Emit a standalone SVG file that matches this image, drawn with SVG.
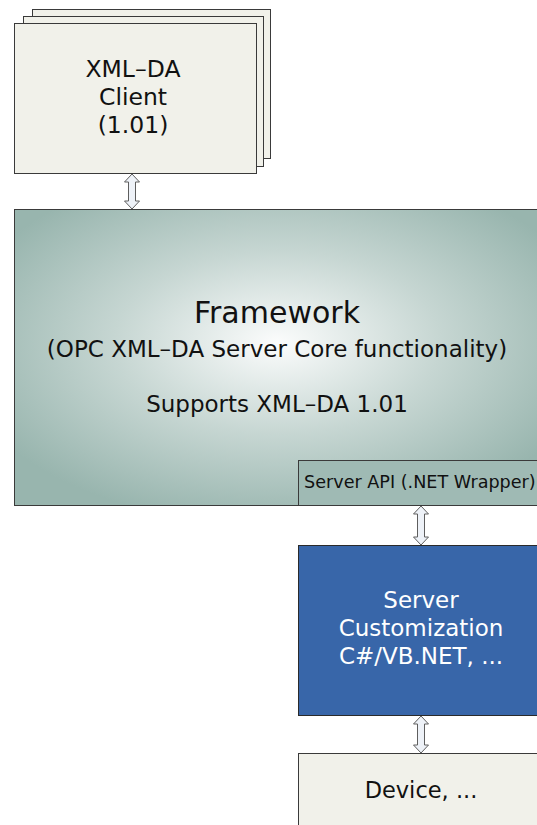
<svg xmlns="http://www.w3.org/2000/svg" width="537" height="825" viewBox="0 0 537 825">
<defs>
<radialGradient id="fw" cx="0.5" cy="0.45" r="0.62" gradientUnits="objectBoundingBox">
<stop offset="0" stop-color="#fbfcfc"/>
<stop offset="0.5" stop-color="#c6d6d2"/>
<stop offset="1" stop-color="#98b5ae"/>
</radialGradient>
<style>
.card{fill:#f1f1ea;stroke:#3a3a3a;stroke-width:1}
.t{font-family:"DejaVu Sans","Liberation Sans",sans-serif;fill:#111;text-anchor:middle}
.w{fill:#ffffff}
.arr{fill:#eef2f8;stroke:#5e5e5e;stroke-width:1}
</style>
</defs>
<rect width="537" height="825" fill="#ffffff"/>
<g id="client">
<rect class="card" x="32.5" y="9.5" width="238" height="149"/>
<rect class="card" x="23.5" y="16.5" width="240" height="150"/>
<rect class="card" x="14.5" y="23.5" width="242" height="150"/>
<text class="t" x="133" y="77" font-size="23.5">XML–DA</text>
<text class="t" x="133" y="105" font-size="23.5">Client</text>
<text class="t" x="133" y="133" font-size="23.5">(1.01)</text>
</g>
<g id="framework">
<rect x="14.5" y="209.5" width="526" height="296" fill="url(#fw)" stroke="#3a3a3a"/>
<text class="t" x="277" y="323" font-size="30">Framework</text>
<text class="t" x="277" y="357" font-size="23">(OPC XML–DA Server Core functionality)</text>
<text class="t" x="277" y="412" font-size="23">Supports XML–DA 1.01</text>
</g>
<g id="serverapi">
<rect x="298.5" y="460.5" width="245" height="45" fill="#9fbab4" stroke="#3a3a3a"/>
<text class="t" x="304" y="488" font-size="17.6" style="text-anchor:start">Server API (.NET Wrapper)</text>
</g>
<g id="customization">
<rect x="298.5" y="545.5" width="245" height="170" fill="#3866a9" stroke="#2a2a2a"/>
<text class="t w" x="421" y="608" font-size="23">Server</text>
<text class="t w" x="421" y="636" font-size="23">Customization</text>
<text class="t w" x="421" y="664" font-size="23">C#/VB.NET, ...</text>
</g>
<g id="device">
<rect class="card" x="298.5" y="753.5" width="245" height="80"/>
<text class="t" x="421" y="798" font-size="22.5">Device, ...</text>
</g>
<g id="connectors">
<polygon class="arr" points="132,174 139.5,182 135.5,182 135.5,201 139.5,201 132,209 124.5,201 128.5,201 128.5,182 124.5,182"/>
<polygon class="arr" points="421,506 428.5,514 424.5,514 424.5,537 428.5,537 421,545 413.5,537 417.5,537 417.5,514 413.5,514"/>
<polygon class="arr" points="421,716 428.5,724 424.5,724 424.5,745 428.5,745 421,753 413.5,745 417.5,745 417.5,724 413.5,724"/>
</g>
</svg>
